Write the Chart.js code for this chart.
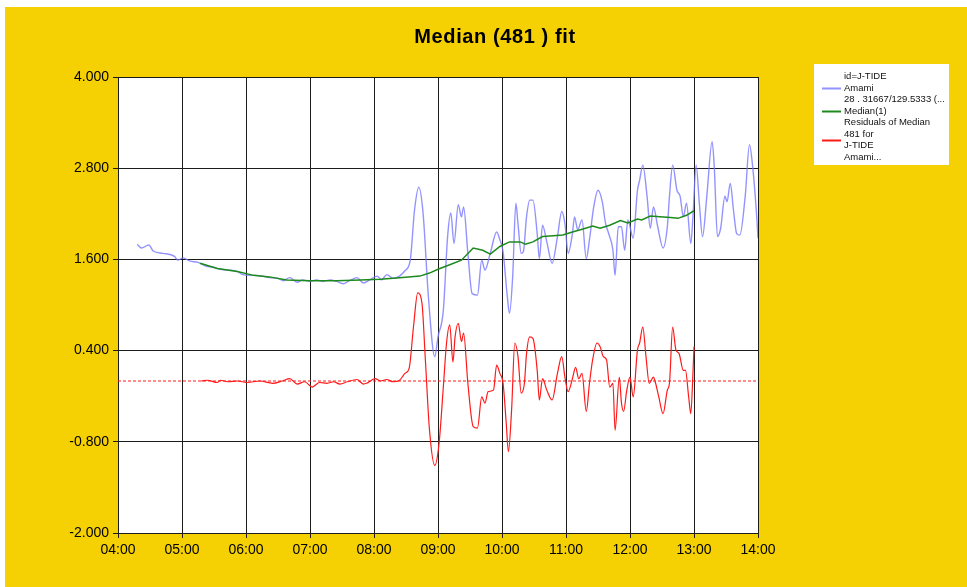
<!DOCTYPE html>
<html>
<head>
<meta charset="utf-8">
<title>Median (481 ) fit</title>
<script src="https://cdn.jsdelivr.net/npm/chart.js@4.4.1/dist/chart.umd.min.js"></script>
<style>
  html, body { margin: 0; padding: 0; background: #ffffff; }
  canvas { display: block; }
</style>
</head>
<body>
<canvas id="chart" width="967" height="587"></canvas>
<script>
// ---- chart text ----
const chartTitle = 'Median (481 ) fit';
const xTickLabels = ['04:00', '05:00', '06:00', '07:00', '08:00', '09:00', '10:00', '11:00', '12:00', '13:00', '14:00'];
const yTickValues = [-2.0, -0.8, 0.4, 1.6, 2.8, 4.0];

const legendObserved = ['id=J-TIDE', 'Amami', '28 . 31667/129.5333 (...'];
const legendMedian = ['Median(1)'];
const legendResidual = ['Residuals of Median', '481 for', 'J-TIDE', 'Amami...'];

// ---- observed tide level (J-TIDE Amami) ----
const observedTimes = [
  '04:18', '04:22', '04:29', '04:33', '04:42', '04:53', '04:56', '05:01', '05:07', '05:15',
  '05:23', '05:29', '05:36', '05:43', '05:52', '05:57', '06:07', '06:15', '06:22', '06:30',
  '06:35', '06:41', '06:48', '06:53', '07:00', '07:06', '07:12', '07:19', '07:25', '07:31',
  '07:37', '07:44', '07:50', '07:56', '08:03', '08:07', '08:12', '08:18', '08:24', '08:29',
  '08:34', '08:38', '08:42', '08:46', '08:51', '08:57', '09:00', '09:05', '09:09', '09:12',
  '09:15', '09:19', '09:22', '09:24', '09:28', '09:32', '09:37', '09:41', '09:44', '09:49',
  '09:55', '09:58', '10:01', '10:05', '10:07', '10:10', '10:13', '10:15', '10:18', '10:20',
  '10:23', '10:26', '10:29', '10:33', '10:35', '10:38', '10:42', '10:47', '10:52', '10:56',
  '10:59', '11:02', '11:06', '11:08', '11:11', '11:15', '11:19', '11:22', '11:26', '11:30',
  '11:34', '11:37', '11:40', '11:44', '11:46', '11:49', '11:52', '11:55', '11:58', '12:03',
  '12:07', '12:09', '12:12', '12:16', '12:19', '12:22', '12:26', '12:31', '12:35', '12:37',
  '12:40', '12:44', '12:47', '12:50', '12:53', '12:57', '12:59', '13:02', '13:05', '13:08',
  '13:12', '13:17', '13:19', '13:22', '13:25', '13:29', '13:31', '13:34', '13:37', '13:40',
  '13:43', '13:48', '13:52', '13:55', '13:59', '14:00'
];
const observedLevels = [
  1.80, 1.75, 1.79, 1.71, 1.68, 1.64, 1.59, 1.62, 1.58, 1.56,
  1.51, 1.50, 1.47, 1.46, 1.44, 1.40, 1.39, 1.38, 1.36, 1.35,
  1.32, 1.36, 1.30, 1.33, 1.31, 1.33, 1.31, 1.33, 1.31, 1.28,
  1.32, 1.36, 1.29, 1.33, 1.38, 1.33, 1.40, 1.35, 1.38, 1.45,
  1.59, 2.25, 2.55, 2.21, 1.11, 0.32, 0.58, 0.93, 1.90, 2.21,
  1.81, 2.32, 2.16, 2.29, 1.68, 1.15, 1.13, 1.59, 1.46, 1.68,
  1.96, 1.86, 1.70, 1.11, 0.89, 1.37, 2.34, 2.07, 1.68, 1.70,
  2.16, 2.38, 2.38, 1.94, 1.61, 2.05, 1.83, 1.55, 1.90, 2.23,
  2.07, 1.68, 1.94, 2.16, 1.99, 2.12, 1.61, 1.86, 2.29, 2.51,
  2.36, 2.08, 1.94, 1.72, 1.39, 2.03, 2.03, 1.72, 2.12, 1.88,
  2.51, 2.64, 2.84, 2.43, 2.01, 2.29, 2.03, 1.75, 2.03, 2.43,
  2.84, 2.51, 2.43, 2.16, 2.34, 1.81, 2.16, 2.84, 2.34, 1.90,
  2.43, 3.15, 2.82, 1.90, 2.01, 2.43, 2.36, 2.60, 2.25, 1.94,
  1.92, 2.43, 3.11, 2.82, 2.12, 1.88
];

// ---- running median (481 samples) ----
const medianTimes = [
  '05:17', '05:33', '05:52', '06:07', '06:22', '06:38', '07:00', '07:25', '07:47', '08:06',
  '08:24', '08:43', '08:52', '09:00', '09:11', '09:22', '09:33', '09:42', '09:49', '09:58',
  '10:07', '10:17', '10:22', '10:29', '10:38', '10:48', '10:57', '11:06', '11:16', '11:25',
  '11:32', '11:41', '11:51', '11:58', '12:07', '12:11', '12:19', '12:28', '12:38', '12:45',
  '12:53', '13:00'
];
const medianLevels = [
  1.55, 1.48, 1.44, 1.39, 1.37, 1.33, 1.32, 1.32, 1.33, 1.34,
  1.36, 1.38, 1.42, 1.47, 1.53, 1.59, 1.75, 1.72, 1.67, 1.77,
  1.83, 1.83, 1.80, 1.83, 1.90, 1.91, 1.92, 1.96, 2.00, 2.04,
  2.01, 2.05, 2.11, 2.08, 2.13, 2.12, 2.17, 2.16, 2.15, 2.14,
  2.18, 2.24
];

// ---- residuals (observed minus median) ----
const residualTimes = [
  '05:18', '05:24', '05:33', '05:36', '05:43', '05:52', '06:01', '06:13', '06:25', '06:34',
  '06:41', '06:48', '06:55', '07:02', '07:09', '07:16', '07:22', '07:28', '07:35', '07:44',
  '07:50', '07:53', '08:01', '08:06', '08:12', '08:18', '08:24', '08:29', '08:33', '08:37',
  '08:41', '08:45', '08:48', '08:52', '08:57', '09:01', '09:05', '09:08', '09:11', '09:14',
  '09:16', '09:19', '09:22', '09:24', '09:28', '09:33', '09:37', '09:41', '09:44', '09:47',
  '09:52', '09:55', '09:58', '10:01', '10:04', '10:06', '10:09', '10:12', '10:15', '10:18',
  '10:21', '10:23', '10:26', '10:29', '10:33', '10:35', '10:38', '10:42', '10:47', '10:52',
  '10:56', '10:59', '11:02', '11:06', '11:09', '11:12', '11:15', '11:19', '11:22', '11:25',
  '11:29', '11:32', '11:35', '11:38', '11:41', '11:44', '11:46', '11:50', '11:52', '11:54',
  '11:57', '12:00', '12:03', '12:07', '12:09', '12:12', '12:15', '12:18', '12:22', '12:24',
  '12:27', '12:31', '12:35', '12:37', '12:40', '12:43', '12:46', '12:50', '12:52', '12:55',
  '12:57', '12:59', '13:00'
];
const residualLevels = [
  0.00, 0.01, -0.02, 0.01, -0.01, 0.00, -0.02, 0.00, -0.03, 0.00,
  0.03, -0.04, -0.01, -0.08, -0.02, -0.03, -0.01, -0.04, -0.01, 0.02,
  -0.04, -0.03, 0.03, 0.00, 0.02, -0.01, 0.01, 0.10, 0.17, 0.71,
  1.16, 1.02, 0.32, -0.64, -1.11, -0.82, -0.08, 0.50, 0.74, 0.25,
  0.58, 0.76, 0.52, 0.63, -0.03, -0.60, -0.62, -0.21, -0.29, -0.14,
  -0.12, 0.21, 0.10, -0.03, -0.56, -0.93, -0.38, 0.50, 0.32, -0.16,
  -0.03, 0.36, 0.58, 0.56, 0.14, -0.25, 0.03, -0.12, -0.25, 0.10,
  0.32, 0.05, -0.14, 0.03, 0.18, 0.03, 0.10, -0.40, -0.03, 0.28,
  0.50, 0.45, 0.32, 0.28, -0.08, -0.03, -0.65, 0.05, -0.29, -0.40,
  -0.12, 0.05, -0.21, 0.41, 0.50, 0.71, 0.32, -0.03, 0.05, -0.03,
  -0.21, -0.43, -0.12, -0.03, 0.71, 0.41, 0.36, 0.14, 0.14, -0.21,
  -0.43, 0.10, 0.45
];

// ---- residual reference level ----
const zeroTimes = ['04:00', '14:00'];
const zeroLevels = [0, 0];

// ---- helpers ----
const BASE_HOUR = 4;
function toMinutes(hhmm) {
  const parts = hhmm.split(':').map(Number);
  return (parts[0] - BASE_HOUR) * 60 + parts[1];
}
function toPoints(times, values) {
  return times.map((t, i) => ({ x: toMinutes(t), y: values[i] }));
}

const COLOR_OBS = 'rgba(120,120,255,0.8)';
const COLOR_MED = '#1d8a1d';
const COLOR_RES = '#ff1a1a';
const GRID = '#1c1c1c';
const FONT_FAMILY = '"Liberation Sans", Arial, Helvetica, sans-serif';

// background: white margin, yellow panel, white plot area
const panelPlugin = {
  id: 'panel',
  beforeDraw(chart) {
    const { ctx, width, height, chartArea } = chart;
    ctx.save();
    ctx.fillStyle = '#ffffff';
    ctx.fillRect(0, 0, width, height);
    ctx.fillStyle = '#f5d104';
    ctx.fillRect(5, 7, width - 5, height - 7);
    ctx.fillStyle = '#ffffff';
    ctx.fillRect(chartArea.left, chartArea.top, chartArea.right - chartArea.left, chartArea.bottom - chartArea.top);
    ctx.restore();
  }
};

// title above the plot
const titlePlugin = {
  id: 'panelTitle',
  afterDraw(chart) {
    const ctx = chart.ctx;
    ctx.save();
    ctx.font = 'bold 20px ' + FONT_FAMILY;
    if ('letterSpacing' in ctx) ctx.letterSpacing = '0.6px';
    ctx.fillStyle = '#000000';
    ctx.textAlign = 'center';
    ctx.textBaseline = 'middle';
    ctx.fillText(chartTitle, 495, 37);
    ctx.restore();
  }
};

// legend box to the right of the plot
const legendPlugin = {
  id: 'sideLegend',
  afterDraw(chart) {
    const ctx = chart.ctx;
    const blocks = [
      { lines: legendObserved, color: chart.data.datasets[0].borderColor },
      { lines: legendMedian, color: chart.data.datasets[1].borderColor },
      { lines: legendResidual, color: chart.data.datasets[2].borderColor }
    ];
    const boxX = 814, boxY = 64, boxW = 135, boxH = 101;
    const lineStep = 11.5;
    ctx.save();
    ctx.fillStyle = '#ffffff';
    ctx.fillRect(boxX, boxY, boxW, boxH);
    ctx.font = '9.5px ' + FONT_FAMILY;
    ctx.textBaseline = 'middle';
    ctx.textAlign = 'left';
    let y = 76.5;
    blocks.forEach(b => {
      const first = y;
      b.lines.forEach(line => {
        ctx.fillStyle = '#111111';
        ctx.fillText(line, 844, y);
        y += lineStep;
      });
      const mid = Math.round((first + y - lineStep) / 2) + 0.5;
      ctx.strokeStyle = b.color;
      ctx.lineWidth = 2;
      ctx.beginPath();
      ctx.moveTo(822, mid);
      ctx.lineTo(841, mid);
      ctx.stroke();
    });
    ctx.restore();
  }
};

new Chart(document.getElementById('chart'), {
  type: 'line',
  data: {
    datasets: [
      {
        label: legendObserved.join(' '),
        data: toPoints(observedTimes, observedLevels),
        borderColor: COLOR_OBS,
        borderWidth: 1.4,
        pointRadius: 0,
        cubicInterpolationMode: 'monotone',
        order: 3
      },
      {
        label: legendMedian.join(' '),
        data: toPoints(medianTimes, medianLevels),
        borderColor: COLOR_MED,
        borderWidth: 1.5,
        pointRadius: 0,
        tension: 0,
        order: 2
      },
      {
        label: legendResidual.join(' '),
        data: toPoints(residualTimes, residualLevels),
        borderColor: COLOR_RES,
        borderWidth: 1.2,
        pointRadius: 0,
        cubicInterpolationMode: 'monotone',
        order: 1
      },
      {
        label: 'zero',
        data: toPoints(zeroTimes, zeroLevels),
        borderColor: COLOR_RES,
        borderWidth: 1,
        borderDash: [3, 2],
        pointRadius: 0,
        order: 4
      }
    ]
  },
  options: {
    responsive: false,
    animation: false,
    layout: { padding: { left: 0, top: 77, right: 209, bottom: 0 } },
    plugins: {
      legend: { display: false },
      title: { display: false },
      tooltip: { enabled: false }
    },
    scales: {
      x: {
        type: 'linear',
        min: 0,
        max: 600,
        afterBuildTicks(scale) {
          scale.ticks = xTickLabels.map(l => ({ value: toMinutes(l) }));
        },
        afterFit(scale) { scale.height = 54; },
        grid: { color: GRID, lineWidth: 1, tickLength: 5, drawTicks: true },
        border: { color: GRID, width: 1 },
        ticks: {
          color: '#000000',
          padding: 4,
          maxRotation: 0,
          autoSkip: false,
          font: { family: FONT_FAMILY, size: 14 },
          callback: (v, i) => xTickLabels[i]
        }
      },
      y: {
        type: 'linear',
        min: -2,
        max: 4,
        afterBuildTicks(scale) {
          scale.ticks = yTickValues.map(v => ({ value: v }));
        },
        afterFit(scale) { scale.width = 118; },
        grid: { color: GRID, lineWidth: 1, tickLength: 5, drawTicks: true },
        border: { color: GRID, width: 1 },
        ticks: {
          color: '#000000',
          padding: 4,
          autoSkip: false,
          font: { family: FONT_FAMILY, size: 14 },
          callback: v => Number(v).toFixed(3)
        }
      }
    }
  },
  plugins: [panelPlugin, titlePlugin, legendPlugin]
});
</script>
</body>
</html>
